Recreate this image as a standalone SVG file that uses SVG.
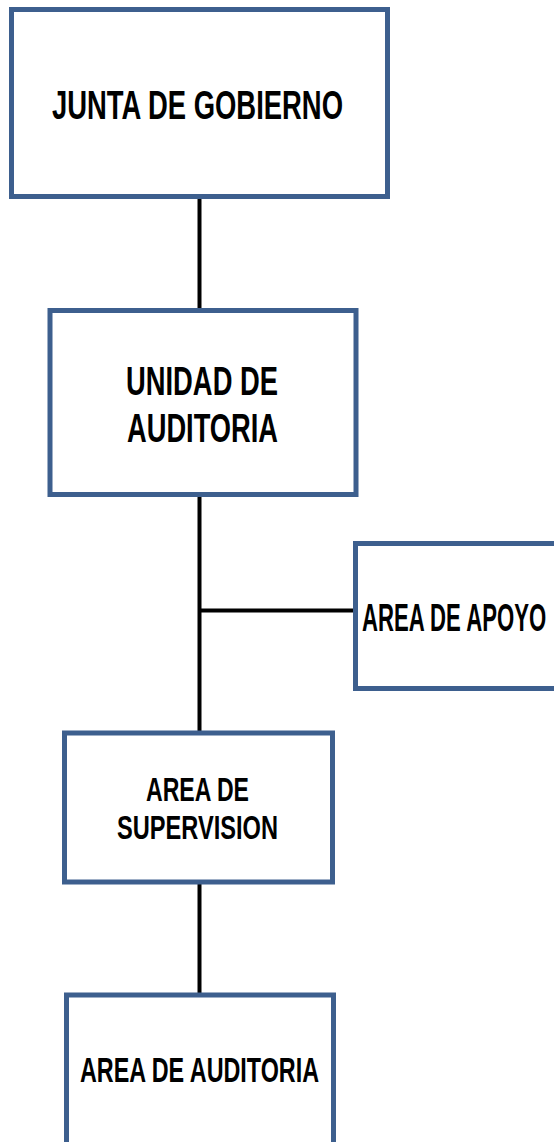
<svg xmlns="http://www.w3.org/2000/svg" width="554" height="1142" viewBox="0 0 554 1142">
<style>
.box{fill:#ffffff;stroke:#3D5F8E;stroke-width:5}
.lbl{font-family:"Liberation Sans",Arial,sans-serif;font-weight:bold;fill:#000000}
.conn{stroke:#000000;stroke-width:4;fill:none}
</style>
<rect width="554" height="1142" fill="#ffffff"/>
<g id="connectors">
<line class="conn" x1="199.5" y1="196" x2="199.5" y2="311"/>
<line class="conn" x1="199.5" y1="494" x2="199.5" y2="733"/>
<line class="conn" x1="199.5" y1="610.5" x2="355" y2="610.5"/>
<line class="conn" x1="199.5" y1="882" x2="199.5" y2="995"/>
</g>
<g id="junta">
<rect class="box" x="11.5" y="9.5" width="376" height="187"/>
<text class="lbl" x="52" y="119" font-size="40" textLength="291" lengthAdjust="spacingAndGlyphs">JUNTA DE GOBIERNO</text>
</g>
<g id="unidad">
<rect class="box" x="50" y="310.5" width="306" height="184"/>
<text class="lbl" x="126" y="395" font-size="40" textLength="152" lengthAdjust="spacingAndGlyphs">UNIDAD DE</text>
<text class="lbl" x="127" y="442" font-size="40" textLength="151" lengthAdjust="spacingAndGlyphs">AUDITORIA</text>
</g>
<g id="apoyo">
<rect class="box" x="355.5" y="543.5" width="220" height="145"/>
<text class="lbl" transform="translate(362,631) scale(0.583,1)" x="0" y="0" font-size="38">AREA DE APOYO</text>
</g>
<g id="supervision">
<rect class="box" x="64.5" y="733" width="268" height="149"/>
<text class="lbl" x="146" y="801" font-size="34" textLength="103" lengthAdjust="spacingAndGlyphs">AREA DE</text>
<text class="lbl" x="117" y="839" font-size="34" textLength="161" lengthAdjust="spacingAndGlyphs">SUPERVISION</text>
</g>
<g id="auditoria">
<rect class="box" x="66.5" y="995" width="267" height="170"/>
<text class="lbl" x="80" y="1082" font-size="35" textLength="239" lengthAdjust="spacingAndGlyphs">AREA DE AUDITORIA</text>
</g>
</svg>
